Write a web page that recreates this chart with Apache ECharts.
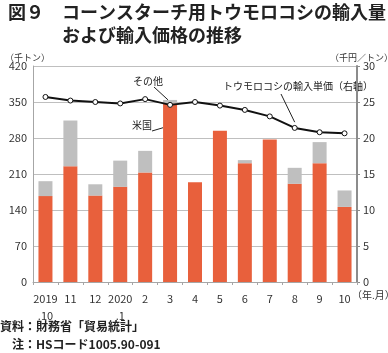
<!DOCTYPE html>
<html lang="ja">
<head>
<meta charset="UTF-8">
<script src="https://cdn.jsdelivr.net/npm/echarts@6/dist/echarts.min.js"></script>
<title>図9</title>
<style>
  *{margin:0;padding:0}
  html,body{width:100%;height:100%;background:#fff}
</style>
</head>
<body>
<div id="main" style="width:388px;height:353px"></div>
<script type="text/javascript">
// 年月
var months = ['2019\n.10', '11', '12', '2020\n.1', '2', '3', '4', '5', '6', '7', '8', '9', '10'];
// 米国（千トン）
var usa = [167, 225, 168, 185, 213, 347, 194, 294, 231, 277, 191, 231, 146];
// その他（千トン）
var other = [29, 89, 22, 51, 42, 7, 0, 0, 6, 0, 31, 41, 32];
// 輸入単価（千円／トン）
var price = [25.7, 25.2, 25.0, 24.8, 25.4, 24.6, 25.0, 24.5, 23.9, 23.0, 21.4, 20.8, 20.65];

var font = '"Noto Sans CJK JP", sans-serif';
var chart = echarts.init(document.getElementById('main'));

var option = {
  animation: false,
  textStyle: {fontFamily: font},
  grid: {left: 33, right: 31, top: 66, bottom: 71},
  xAxis: {
    type: 'category',
    data: months,
    axisLine: {lineStyle: {color: '#a6a6a6', width: 1}},
    axisTick: {show: true, length: 3, lineStyle: {color: '#a6a6a6'}},
    axisLabel: {color: '#333', fontSize: 11, lineHeight: 17, margin: 8, interval: 0, fontFamily: font}
  },
  yAxis: [{
    type: 'value', min: 0, max: 420, interval: 70,
    axisLine: {show: true, lineStyle: {color: '#a6a6a6'}},
    axisTick: {show: false},
    axisLabel: {color: '#333', fontSize: 11, margin: 6, fontFamily: font},
    splitLine: {lineStyle: {color: '#bfbfbf'}}
  }, {
    type: 'value', min: 0, max: 30, interval: 5,
    axisLine: {show: true, lineStyle: {color: '#8c8c8c', width: 2}},
    axisTick: {show: true, length: 3, inside: false, lineStyle: {color: '#8c8c8c'}},
    axisLabel: {color: '#333', fontSize: 11, margin: 6, fontFamily: font},
    splitLine: {show: false}
  }],
  series: [{
    name: '米国', type: 'bar', stack: 'v', data: usa, barWidth: 14,
    itemStyle: {color: '#e8603c'}
  }, {
    name: 'その他', type: 'bar', stack: 'v', data: other, barWidth: 14,
    itemStyle: {color: '#bfbfbf'}
  }, {
    name: '輸入単価', type: 'line', yAxisIndex: 1, data: price,
    symbol: 'circle', symbolSize: 5,
    lineStyle: {color: '#111', width: 2},
    itemStyle: {color: '#fff', borderColor: '#111', borderWidth: 1},
    z: 5
  }]
};
chart.setOption(option);

// 注記（引出線は点の位置から取る）
var pOther = chart.convertToPixel({gridIndex: 0}, [5, usa[5] + other[5]]);
var pUsa = chart.convertToPixel({gridIndex: 0}, [5, 300]);
var pLine = chart.convertToPixel({xAxisIndex: 0, yAxisIndex: 1}, [10.4, 22.2]);

chart.setOption({
  graphic: [
    {type: 'text', left: 8, top: 3, style: {text: '図９', font: 'bold 18px ' + font, fill: '#222'}},
    {type: 'text', left: 62, top: 3, style: {text: 'コーンスターチ用トウモロコシの輸入量', font: 'bold 18px ' + font, fill: '#222'}},
    {type: 'text', left: 62, top: 26, style: {text: 'および輸入価格の推移', font: 'bold 18px ' + font, fill: '#222'}},
    {type: 'text', left: 5, top: 53, style: {text: '（千トン）', font: '9px ' + font, fill: '#333'}},
    {type: 'text', left: 330, top: 53, style: {text: '（千円／トン）', font: '9px ' + font, fill: '#333'}},
    {type: 'text', left: 352, top: 290, style: {text: '（年.月）', font: '10px ' + font, fill: '#333'}},
    {type: 'text', left: 133, top: 76, style: {text: 'その他', font: '10px ' + font, fill: '#222'}},
    {type: 'line', shape: {x1: 154, y1: 87, x2: pOther[0] - 2, y2: pOther[1]}, style: {stroke: '#222', lineWidth: 1}},
    {type: 'text', left: 132, top: 120, style: {text: '米国', font: '10px ' + font, fill: '#222'}},
    {type: 'line', shape: {x1: 152, y1: 131, x2: pUsa[0] - 7, y2: pUsa[1]}, style: {stroke: '#222', lineWidth: 1}},
    {type: 'text', left: 223, top: 81, style: {text: 'トウモロコシの輸入単価（右軸）', font: '10px ' + font, fill: '#222'}},
    {type: 'line', shape: {x1: 281, y1: 94, x2: pLine[0], y2: pLine[1]}, style: {stroke: '#222', lineWidth: 1}},
    {type: 'text', left: 0, top: 320, style: {text: '資料：財務省「貿易統計」', font: 'bold 12px ' + font, fill: '#222'}},
    {type: 'text', left: 12, top: 338, style: {text: '注：HSコード1005.90-091', font: 'bold 12px ' + font, fill: '#222'}}
  ]
});
</script>
</body>
</html>
